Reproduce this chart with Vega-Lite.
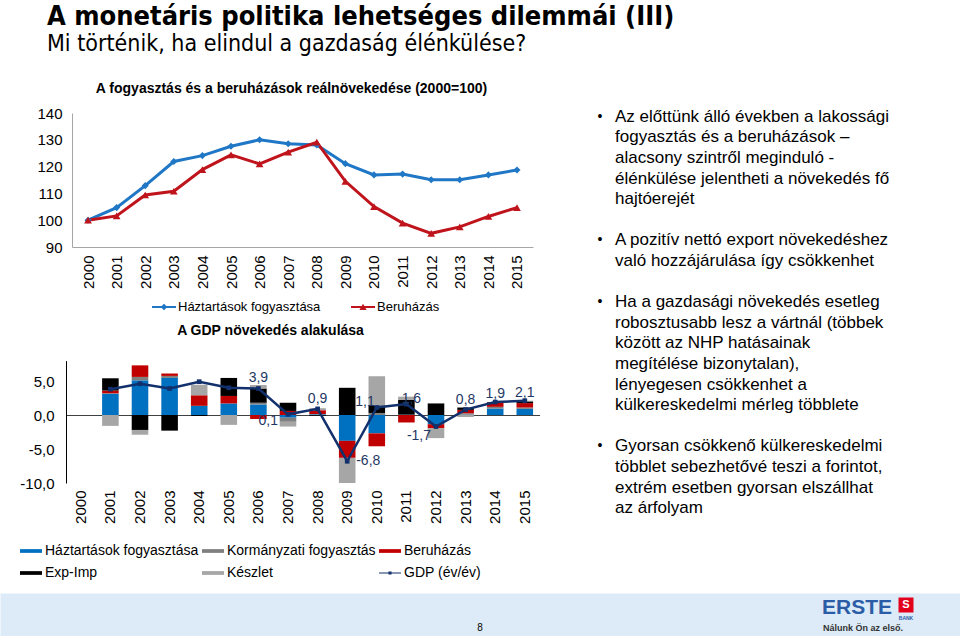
{
  "$schema": "https://vega.github.io/schema/vega-lite/v6.json",
  "width": 960,
  "height": 576,
  "autosize": {"type": "none"},
  "padding": {"top": 60, "left": 0, "right": 0, "bottom": 0},
  "background": "#ffffff",
  "title": {
    "text": "A monetáris politika lehetséges dilemmái (III)",
    "subtitle": "Mi történik, ha elindul a gazdaság élénkülése?",
    "anchor": "start",
    "frame": "group",
    "orient": "top",
    "dx": 47,
    "offset": 3,
    "font": "Liberation Sans Narrow, DejaVu Sans Condensed, Liberation Sans",
    "fontSize": 27,
    "fontWeight": "bold",
    "color": "#000000",
    "subtitleFont": "Liberation Sans Narrow, DejaVu Sans Condensed, Liberation Sans",
    "subtitleFontSize": 23,
    "subtitleColor": "#000000",
    "subtitlePadding": 2
  },
  "config": {
    "font": "Liberation Sans",
    "view": {"stroke": null},
    "axis": {"grid": false, "ticks": false, "labelColor": "#000000", "labelFont": "Liberation Sans", "titleFont": "Liberation Sans", "titleColor": "#000000"},
    "legend": {"labelFont": "Liberation Sans", "labelColor": "#000000"},
    "text": {"font": "Liberation Sans"},
    "locale": {"number": {"decimal": ",", "thousands": " ", "grouping": [3], "currency": ["", ""], "minus": "-"}}
  },
  "datasets": {
    "top": [
      {"year": "2000", "series": "Háztartások fogyasztása", "value": 100},
      {"year": "2001", "series": "Háztartások fogyasztása", "value": 104.7},
      {"year": "2002", "series": "Háztartások fogyasztása", "value": 112.9},
      {"year": "2003", "series": "Háztartások fogyasztása", "value": 121.9},
      {"year": "2004", "series": "Háztartások fogyasztása", "value": 124.1},
      {"year": "2005", "series": "Háztartások fogyasztása", "value": 127.6},
      {"year": "2006", "series": "Háztartások fogyasztása", "value": 130.0},
      {"year": "2007", "series": "Háztartások fogyasztása", "value": 128.5},
      {"year": "2008", "series": "Háztartások fogyasztása", "value": 128.1},
      {"year": "2009", "series": "Háztartások fogyasztása", "value": 121.1},
      {"year": "2010", "series": "Háztartások fogyasztása", "value": 116.9},
      {"year": "2011", "series": "Háztartások fogyasztása", "value": 117.2},
      {"year": "2012", "series": "Háztartások fogyasztása", "value": 115.1},
      {"year": "2013", "series": "Háztartások fogyasztása", "value": 115.1},
      {"year": "2014", "series": "Háztartások fogyasztása", "value": 116.9},
      {"year": "2015", "series": "Háztartások fogyasztása", "value": 118.7},
      {"year": "2000", "series": "Beruházás", "value": 100},
      {"year": "2001", "series": "Beruházás", "value": 101.6},
      {"year": "2002", "series": "Beruházás", "value": 109.4},
      {"year": "2003", "series": "Beruházás", "value": 110.8},
      {"year": "2004", "series": "Beruházás", "value": 118.9},
      {"year": "2005", "series": "Beruházás", "value": 124.4},
      {"year": "2006", "series": "Beruházás", "value": 121.0},
      {"year": "2007", "series": "Beruházás", "value": 125.4},
      {"year": "2008", "series": "Beruházás", "value": 129.1},
      {"year": "2009", "series": "Beruházás", "value": 114.5},
      {"year": "2010", "series": "Beruházás", "value": 105.1},
      {"year": "2011", "series": "Beruházás", "value": 98.9},
      {"year": "2012", "series": "Beruházás", "value": 95.1},
      {"year": "2013", "series": "Beruházás", "value": 97.5},
      {"year": "2014", "series": "Beruházás", "value": 101.4},
      {"year": "2015", "series": "Beruházás", "value": 104.7}
    ],
    "bars": [
      {"year": "2001", "series": "Háztartások fogyasztása", "value": 3.1},
      {"year": "2001", "series": "Kormányzati fogyasztás", "value": 0.1},
      {"year": "2001", "series": "Beruházás", "value": 0.4},
      {"year": "2001", "series": "Exp-Imp", "value": 1.8},
      {"year": "2001", "series": "Készlet", "value": -1.6},
      {"year": "2002", "series": "Háztartások fogyasztása", "value": 5.1},
      {"year": "2002", "series": "Kormányzati fogyasztás", "value": 0.5},
      {"year": "2002", "series": "Beruházás", "value": 1.7},
      {"year": "2002", "series": "Exp-Imp", "value": -2.2},
      {"year": "2002", "series": "Készlet", "value": -0.7},
      {"year": "2003", "series": "Háztartások fogyasztása", "value": 5.45},
      {"year": "2003", "series": "Kormányzati fogyasztás", "value": 0.3},
      {"year": "2003", "series": "Beruházás", "value": 0.35},
      {"year": "2003", "series": "Exp-Imp", "value": -2.3},
      {"year": "2004", "series": "Háztartások fogyasztása", "value": 1.35},
      {"year": "2004", "series": "Beruházás", "value": 1.55},
      {"year": "2004", "series": "Exp-Imp", "value": -0.15},
      {"year": "2004", "series": "Készlet", "value": 1.55},
      {"year": "2005", "series": "Háztartások fogyasztása", "value": 1.7},
      {"year": "2005", "series": "Beruházás", "value": 1.1},
      {"year": "2005", "series": "Exp-Imp", "value": 2.65},
      {"year": "2005", "series": "Készlet", "value": -1.45},
      {"year": "2006", "series": "Háztartások fogyasztása", "value": 1.55},
      {"year": "2006", "series": "Kormányzati fogyasztás", "value": 0.25},
      {"year": "2006", "series": "Beruházás", "value": -0.6},
      {"year": "2006", "series": "Exp-Imp", "value": 2.1},
      {"year": "2006", "series": "Készlet", "value": 0.5},
      {"year": "2007", "series": "Háztartások fogyasztása", "value": -0.4},
      {"year": "2007", "series": "Kormányzati fogyasztás", "value": -0.6},
      {"year": "2007", "series": "Beruházás", "value": 0.6},
      {"year": "2007", "series": "Exp-Imp", "value": 1.2},
      {"year": "2007", "series": "Készlet", "value": -0.7},
      {"year": "2008", "series": "Háztartások fogyasztása", "value": 0.1},
      {"year": "2008", "series": "Kormányzati fogyasztás", "value": 0.05},
      {"year": "2008", "series": "Beruházás", "value": 0.55},
      {"year": "2008", "series": "Exp-Imp", "value": -0.1},
      {"year": "2008", "series": "Készlet", "value": 0.3},
      {"year": "2009", "series": "Háztartások fogyasztása", "value": -3.8},
      {"year": "2009", "series": "Beruházás", "value": -2.5},
      {"year": "2009", "series": "Exp-Imp", "value": 4.0},
      {"year": "2009", "series": "Készlet", "value": -3.7},
      {"year": "2010", "series": "Háztartások fogyasztása", "value": -2.7},
      {"year": "2010", "series": "Kormányzati fogyasztás", "value": 0.3},
      {"year": "2010", "series": "Beruházás", "value": -1.9},
      {"year": "2010", "series": "Exp-Imp", "value": 1.1},
      {"year": "2010", "series": "Készlet", "value": 4.3},
      {"year": "2011", "series": "Háztartások fogyasztása", "value": 0.05},
      {"year": "2011", "series": "Beruházás", "value": -1.1},
      {"year": "2011", "series": "Exp-Imp", "value": 2.2},
      {"year": "2011", "series": "Készlet", "value": 0.45},
      {"year": "2012", "series": "Háztartások fogyasztása", "value": -1.35},
      {"year": "2012", "series": "Beruházás", "value": -0.6},
      {"year": "2012", "series": "Exp-Imp", "value": 1.7},
      {"year": "2012", "series": "Készlet", "value": -1.45},
      {"year": "2013", "series": "Háztartások fogyasztása", "value": 0.05},
      {"year": "2013", "series": "Kormányzati fogyasztás", "value": 0.2},
      {"year": "2013", "series": "Beruházás", "value": 0.5},
      {"year": "2013", "series": "Exp-Imp", "value": 0.35},
      {"year": "2013", "series": "Készlet", "value": -0.3},
      {"year": "2014", "series": "Háztartások fogyasztása", "value": 0.95},
      {"year": "2014", "series": "Kormányzati fogyasztás", "value": 0.25},
      {"year": "2014", "series": "Beruházás", "value": 0.6},
      {"year": "2014", "series": "Exp-Imp", "value": 0.1},
      {"year": "2015", "series": "Háztartások fogyasztása", "value": 0.9},
      {"year": "2015", "series": "Kormányzati fogyasztás", "value": 0.2},
      {"year": "2015", "series": "Beruházás", "value": 0.65},
      {"year": "2015", "series": "Exp-Imp", "value": 0.25},
      {"year": "2015", "series": "Készlet", "value": 0.1}
    ],
    "gdp": [
      {"year": "2001", "value": 3.8},
      {"year": "2002", "value": 4.6},
      {"year": "2003", "value": 3.9},
      {"year": "2004", "value": 4.9},
      {"year": "2005", "value": 4.0},
      {"year": "2006", "value": 3.9},
      {"year": "2007", "value": 0.1},
      {"year": "2008", "value": 0.9},
      {"year": "2009", "value": -6.8},
      {"year": "2010", "value": 1.1},
      {"year": "2011", "value": 1.6},
      {"year": "2012", "value": -1.7},
      {"year": "2013", "value": 0.8},
      {"year": "2014", "value": 1.9},
      {"year": "2015", "value": 2.1}
    ],
    "notes": [
      {"line": 0, "indent": 0, "text": "•"},
      {"line": 0, "indent": 1, "text": "Az előttünk álló években a lakossági"},
      {"line": 1, "indent": 1, "text": "fogyasztás és a beruházások –"},
      {"line": 2, "indent": 1, "text": "alacsony szintről meginduló -"},
      {"line": 3, "indent": 1, "text": "élénkülése jelentheti a növekedés fő"},
      {"line": 4, "indent": 1, "text": "hajtóerejét"},
      {"line": 6, "indent": 0, "text": "•"},
      {"line": 6, "indent": 1, "text": "A pozitív nettó export növekedéshez"},
      {"line": 7, "indent": 1, "text": "való hozzájárulása így csökkenhet"},
      {"line": 9, "indent": 0, "text": "•"},
      {"line": 9, "indent": 1, "text": "Ha a gazdasági növekedés esetleg"},
      {"line": 10, "indent": 1, "text": "robosztusabb lesz a vártnál (többek"},
      {"line": 11, "indent": 1, "text": "között az NHP hatásainak"},
      {"line": 12, "indent": 1, "text": "megítélése bizonytalan),"},
      {"line": 13, "indent": 1, "text": "lényegesen csökkenhet a"},
      {"line": 14, "indent": 1, "text": "külkereskedelmi mérleg többlete"},
      {"line": 16, "indent": 0, "text": "•"},
      {"line": 16, "indent": 1, "text": "Gyorsan csökkenő külkereskedelmi"},
      {"line": 17, "indent": 1, "text": "többlet sebezhetővé teszi a forintot,"},
      {"line": 18, "indent": 1, "text": "extrém esetben gyorsan  elszállhat"},
      {"line": 19, "indent": 1, "text": "az árfolyam"}
    ]
  },
  "layer": [
    {
      "data": {"values": [{"page": "8"}]},
      "mark": {"type": "text", "fontSize": 10, "color": "#000000", "baseline": "middle"},
      "encoding": {
        "x": {"field": "page", "type": "nominal", "scale": {"type": "point", "range": [0, 960], "padding": 0},
              "axis": {"orient": "bottom", "offset": -21.5, "domainColor": "#DCEBF7", "domainWidth": 43, "labels": false, "ticks": false, "title": null, "zindex": 0}},
        "y": {"field": "page", "type": "nominal", "scale": {"type": "point", "range": [568, 568]}, "axis": null},
        "text": {"field": "page"}
      }
    },
    {
      "data": {"name": "top"},
      "layer": [
        {
          "mark": {"type": "line", "strokeWidth": 3},
          "encoding": {
            "x": {"field": "year", "type": "ordinal",
                  "scale": {"type": "point", "range": [72, 533], "padding": 0.56},
                  "axis": {"orient": "bottom", "offset": -389, "title": null, "labelAngle": 270, "labelPadding": 8, "labelFontSize": 15, "domainColor": "#A6A6A6", "ticks": false}},
            "y": {"field": "value", "type": "quantitative",
                  "scale": {"domain": [90, 140], "range": [187, 53], "zero": false, "nice": false},
                  "axis": {"orient": "left", "offset": -72, "values": [90, 100, 110, 120, 130, 140], "domainColor": "#A6A6A6", "ticks": false, "labelPadding": 10, "labelFontSize": 15,
                           "title": "A fogyasztás és a beruházások reálnövekedése (2000=100)", "titleAngle": 0, "titleX": 219, "titleY": 28, "titleAlign": "center", "titleBaseline": "middle", "titleFontSize": 14, "titleFontWeight": "bold"}},
            "color": {"field": "series", "type": "nominal",
                      "scale": {"domain": ["Háztartások fogyasztása", "Beruházás"], "range": ["#1F77C5", "#C0141C"]},
                      "legend": {"orient": "none", "legendX": 152, "legendY": 235, "direction": "horizontal", "title": null, "labelFontSize": 13, "columnPadding": 30, "symbolSize": 576, "labelOffset": 2, "padding": 0,
                                 "encode": {"symbols": {"update": {
                                   "shape": {"signal": "datum.value == 'Beruházás' ? 'M-1,-0.08H1V0.08H-1Z M-0.3,0.24L0,-0.28L0.3,0.24Z' : 'M-1,-0.08H1V0.08H-1Z M-0.28,0L0,-0.28L0.28,0L0,0.28Z'"},
                                   "fill": {"signal": "datum.value == 'Beruházás' ? '#C0141C' : '#1F77C5'"},
                                   "strokeWidth": {"value": 0},
                                   "opacity": {"value": 1}}}}}}
          }
        },
        {
          "transform": [{"filter": "datum.series == 'Háztartások fogyasztása'"}],
          "mark": {"type": "point", "shape": "diamond", "filled": true, "size": 50, "opacity": 1},
          "encoding": {
            "x": {"field": "year", "type": "ordinal"},
            "y": {"field": "value", "type": "quantitative"},
            "color": {"field": "series", "type": "nominal", "legend": null}
          }
        },
        {
          "transform": [{"filter": "datum.series == 'Beruházás'"}],
          "mark": {"type": "point", "shape": "triangle-up", "filled": true, "size": 60, "opacity": 1},
          "encoding": {
            "x": {"field": "year", "type": "ordinal"},
            "y": {"field": "value", "type": "quantitative"},
            "color": {"field": "series", "type": "nominal", "legend": null}
          }
        }
      ]
    },
    {
      "layer": [
        {
          "data": {"name": "bars"},
          "transform": [{"calculate": "indexof(['Háztartások fogyasztása','Kormányzati fogyasztás','Beruházás','Exp-Imp','Készlet'], datum.series)", "as": "k"}],
          "mark": {"type": "bar"},
          "encoding": {
            "x": {"field": "year", "type": "ordinal",
                  "scale": {"type": "band", "domain": ["2000","2001","2002","2003","2004","2005","2006","2007","2008","2009","2010","2011","2012","2013","2014","2015"], "range": [66, 539.6], "paddingInner": 0.44, "paddingOuter": 0.22},
                  "axis": {"orient": "bottom", "offset": -221, "title": null, "labelAngle": 270, "labelPadding": 75, "labelFontSize": 15, "domainColor": "#404040", "ticks": false}},
            "y": {"field": "value", "type": "quantitative", "stack": "zero",
                  "scale": {"domain": [-10, 8], "range": [423, 300.6], "zero": false, "nice": false},
                  "axis": {"orient": "left", "offset": -66, "values": [-10, -5, 0, 5], "format": ".1f", "labelFontSize": 15, "labelPadding": 12, "domainColor": "#000000", "ticks": false,
                           "title": "A GDP növekedés alakulása", "titleAngle": 0, "titleX": 204, "titleY": 270, "titleAlign": "center", "titleBaseline": "middle", "titleFontSize": 14, "titleFontWeight": "bold"}},
            "color": {"field": "series", "type": "nominal",
                      "scale": {"domain": ["Háztartások fogyasztása", "Kormányzati fogyasztás", "Beruházás", "Exp-Imp", "Készlet", "GDP (év/év)"],
                                "range": ["#0070C0", "#7F7F7F", "#C00000", "#000000", "#A6A6A6", "#12306B"]},
                      "legend": {"orient": "none", "legendX": 20, "legendY": 480, "title": null, "columns": 3, "direction": "horizontal", "columnPadding": 3, "rowPadding": 4, "labelFontSize": 14, "symbolSize": 484, "symbolStrokeWidth": 0, "labelOffset": 3, "padding": 0,
                                 "symbolType": "M-1,-0.17H1V0.17H-1Z",
                                 "encode": {"symbols": {"update": {
                                   "shape": {"signal": "datum.value == 'GDP (év/év)' ? 'M-1,-0.05H1V0.05H-1Z M-0.14,-0.14H0.14V0.14H-0.14Z' : 'M-1,-0.17H1V0.17H-1Z'"},
                                   "strokeWidth": {"value": 0},
                                   "opacity": {"value": 1}}}}}},
            "order": {"field": "k", "type": "quantitative"}
          }
        },
        {
          "data": {"name": "gdp"},
          "mark": {"type": "line", "strokeWidth": 2.5},
          "encoding": {
            "x": {"field": "year", "type": "ordinal"},
            "y": {"field": "value", "type": "quantitative"},
            "color": {"datum": "GDP (év/év)", "legend": null}
          }
        },
        {
          "data": {"name": "gdp"},
          "mark": {"type": "point", "shape": "square", "filled": true, "size": 22, "color": "#12306B", "opacity": 1},
          "encoding": {
            "x": {"field": "year", "type": "ordinal"},
            "y": {"field": "value", "type": "quantitative"}
          }
        },
        {
          "data": {"name": "gdp"},
          "transform": [{"filter": "indexof(['2006','2008','2013'], datum.year) >= 0"}],
          "mark": {"type": "text", "fontSize": 14, "color": "#1F3864", "align": "center", "baseline": "middle", "dy": -10},
          "encoding": {
            "x": {"field": "year", "type": "ordinal"},
            "y": {"field": "value", "type": "quantitative"},
            "text": {"field": "value", "type": "quantitative", "format": ".1f"}
          }
        },
        {
          "data": {"name": "gdp"},
          "transform": [{"filter": "indexof(['2014','2015'], datum.year) >= 0"}],
          "mark": {"type": "text", "fontSize": 14, "color": "#1F3864", "align": "center", "baseline": "middle", "dy": -8},
          "encoding": {
            "x": {"field": "year", "type": "ordinal"},
            "y": {"field": "value", "type": "quantitative"},
            "text": {"field": "value", "type": "quantitative", "format": ".1f"}
          }
        },
        {
          "data": {"name": "gdp"},
          "transform": [{"filter": "datum.year == '2011'"}],
          "mark": {"type": "text", "fontSize": 14, "color": "#1F3864", "align": "center", "baseline": "middle", "dx": 5, "dy": -5},
          "encoding": {
            "x": {"field": "year", "type": "ordinal"},
            "y": {"field": "value", "type": "quantitative"},
            "text": {"field": "value", "type": "quantitative", "format": ".1f"}
          }
        },
        {
          "data": {"name": "gdp"},
          "transform": [{"filter": "datum.year == '2010'"}],
          "mark": {"type": "text", "fontSize": 14, "color": "#1F3864", "align": "right", "baseline": "middle", "dx": -2, "dy": -6},
          "encoding": {
            "x": {"field": "year", "type": "ordinal"},
            "y": {"field": "value", "type": "quantitative"},
            "text": {"field": "value", "type": "quantitative", "format": ".1f"}
          }
        },
        {
          "data": {"name": "gdp"},
          "transform": [{"filter": "datum.year == '2007'"}],
          "mark": {"type": "text", "fontSize": 14, "color": "#1F3864", "align": "right", "baseline": "middle", "dx": -10, "dy": 7},
          "encoding": {
            "x": {"field": "year", "type": "ordinal"},
            "y": {"field": "value", "type": "quantitative"},
            "text": {"field": "value", "type": "quantitative", "format": ".1f"}
          }
        },
        {
          "data": {"name": "gdp"},
          "transform": [{"filter": "datum.year == '2009'"}],
          "mark": {"type": "text", "fontSize": 14, "color": "#1F3864", "align": "left", "baseline": "middle", "dx": 9},
          "encoding": {
            "x": {"field": "year", "type": "ordinal"},
            "y": {"field": "value", "type": "quantitative"},
            "text": {"field": "value", "type": "quantitative", "format": ".1f"}
          }
        },
        {
          "data": {"name": "gdp"},
          "transform": [{"filter": "datum.year == '2012'"}],
          "mark": {"type": "text", "fontSize": 14, "color": "#1F3864", "align": "right", "baseline": "middle", "dx": -5, "dy": 9},
          "encoding": {
            "x": {"field": "year", "type": "ordinal"},
            "y": {"field": "value", "type": "quantitative"},
            "text": {"field": "value", "type": "quantitative", "format": ".1f"}
          }
        }
      ]
    },
    {
      "data": {"name": "notes"},
      "layer": [
        {
          "transform": [{"filter": "datum.indent == 1"}],
          "mark": {"type": "text", "align": "left", "baseline": "middle", "fontSize": 17, "color": "#000000"},
          "encoding": {
            "x": {"field": "indent", "type": "quantitative", "scale": {"domain": [0, 1], "range": [600, 615], "zero": false, "nice": false}, "axis": null},
            "y": {"field": "line", "type": "quantitative", "scale": {"domain": [0, 19], "range": [56.7, 448.1], "zero": false, "nice": false}, "axis": null},
            "text": {"field": "text"}
          }
        },
        {
          "transform": [{"filter": "datum.indent == 0"}],
          "mark": {"type": "text", "align": "center", "baseline": "middle", "fontSize": 14, "color": "#000000"},
          "encoding": {
            "x": {"field": "indent", "type": "quantitative", "axis": null},
            "y": {"field": "line", "type": "quantitative", "axis": null},
            "text": {"field": "text"}
          }
        }
      ]
    },
    {
      "data": {"values": [{"part": "ERSTE"}]},
      "mark": {"type": "text", "align": "left", "baseline": "middle", "fontSize": 21, "fontWeight": "bold", "color": "#2B5CA6"},
      "encoding": {
        "x": {"field": "part", "type": "nominal", "scale": {"type": "point", "range": [822, 822]}, "axis": null},
        "y": {"field": "part", "type": "nominal", "scale": {"type": "point", "range": [548, 548]}, "axis": null},
        "text": {"field": "part"}
      }
    },
    {
      "data": {"values": [{"part": "Nálunk Ön az első."}]},
      "mark": {"type": "text", "align": "left", "baseline": "middle", "fontSize": 9, "fontWeight": "bold", "color": "#333333"},
      "encoding": {
        "x": {"field": "part", "type": "nominal", "scale": {"type": "point", "range": [823, 823]}, "axis": null},
        "y": {"field": "part", "type": "nominal", "scale": {"type": "point", "range": [568, 568]}, "axis": null},
        "text": {"field": "part"}
      }
    },
    {
      "data": {"values": [{"part": "logo"}]},
      "mark": {"type": "point", "shape": "square", "filled": true, "size": 225, "color": "#E2001A", "opacity": 1},
      "encoding": {
        "x": {"field": "part", "type": "nominal", "scale": {"type": "point", "range": [906, 906]}, "axis": null},
        "y": {"field": "part", "type": "nominal", "scale": {"type": "point", "range": [545, 545]}, "axis": null}
      }
    },
    {
      "data": {"values": [{"part": "S"}]},
      "mark": {"type": "text", "align": "center", "baseline": "middle", "fontSize": 11, "fontWeight": "bold", "color": "#FFFFFF"},
      "encoding": {
        "x": {"field": "part", "type": "nominal", "scale": {"type": "point", "range": [906, 906]}, "axis": null},
        "y": {"field": "part", "type": "nominal", "scale": {"type": "point", "range": [545, 545]}, "axis": null},
        "text": {"field": "part"}
      }
    },
    {
      "data": {"values": [{"part": "BANK"}]},
      "mark": {"type": "text", "align": "center", "baseline": "middle", "fontSize": 5, "fontWeight": "bold", "color": "#2B5CA6"},
      "encoding": {
        "x": {"field": "part", "type": "nominal", "scale": {"type": "point", "range": [906, 906]}, "axis": null},
        "y": {"field": "part", "type": "nominal", "scale": {"type": "point", "range": [558, 558]}, "axis": null},
        "text": {"field": "part"}
      }
    }
  ],
  "resolve": {
    "scale": {"x": "independent", "y": "independent", "color": "independent"},
    "axis": {"x": "independent", "y": "independent"},
    "legend": {"color": "independent"}
  }
}
